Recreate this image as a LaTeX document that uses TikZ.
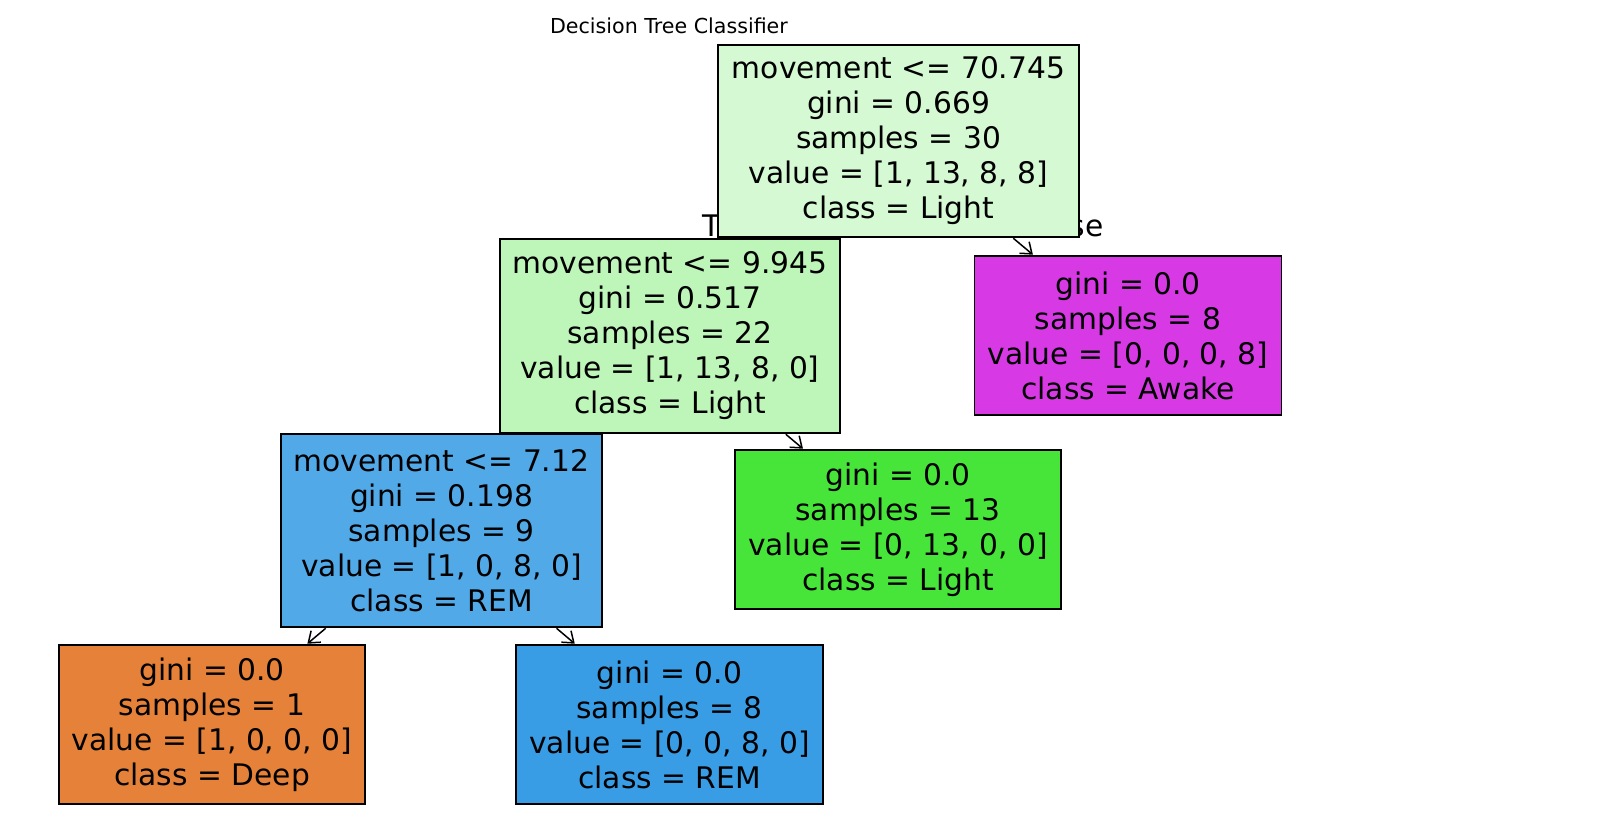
\documentclass[tikz,border=0pt]{standalone}
\usepackage{fontspec}
\setmainfont{DejaVu Sans}
\usetikzlibrary{arrows.meta,backgrounds}
\definecolor{rootfill}{RGB}{213,249,210}
\definecolor{lightmid}{RGB}{189,246,184}
\definecolor{remmid}{RGB}{82,169,232}
\definecolor{awakec}{RGB}{215,57,229}
\definecolor{lightc}{RGB}{71,229,57}
\definecolor{deepc}{RGB}{229,129,57}
\definecolor{remc}{RGB}{57,157,229}
\begin{document}
\begin{tikzpicture}[x=1pt,y=-1pt,
  box/.style={draw=black,line width=1.4pt,align=center,inner sep=0pt,outer sep=0pt,
    font=\fontsize{29.7}{35}\selectfont},
  conn/.style={-{Straight Barb[length=10pt,width=15pt,line width=1.5pt]},line width=1.5pt,
    shorten >=2pt,shorten <=2pt},
  lbl/.style={anchor=base,inner sep=0pt,font=\fontsize{29.7}{35}\selectfont}]
\useasboundingbox (0,0) rectangle (1600,834);
\node (title) at (669,25.5) {\fontsize{20.6}{24}\selectfont Decision Tree Classifier};
\node[box,fill=rootfill,minimum width=361pt,minimum height=192pt] (root) at (898.5,141)
  {movement <= 70.745\\gini = 0.669\\samples = 30\\value = [1, 13, 8, 8]\\class = Light};
\node[box,fill=lightmid,minimum width=340pt,minimum height=194pt] (n1) at (670,336)
  {movement <= 9.945\\gini = 0.517\\samples = 22\\value = [1, 13, 8, 0]\\class = Light};
\node[box,fill=awakec,minimum width=306.5pt,minimum height=159pt] (awake) at (1128,335.5)
  {gini = 0.0\\samples = 8\\value = [0, 0, 0, 8]\\class = Awake};
\node[box,fill=remmid,minimum width=321pt,minimum height=193pt] (n2) at (441.5,530.5)
  {movement <= 7.12\\gini = 0.198\\samples = 9\\value = [1, 0, 8, 0]\\class = REM};
\node[box,fill=lightc,minimum width=326pt,minimum height=159pt] (light) at (898,529.5)
  {gini = 0.0\\samples = 13\\value = [0, 13, 0, 0]\\class = Light};
\node[box,fill=deepc,minimum width=306pt,minimum height=159pt] (deep) at (212,724.5)
  {gini = 0.0\\samples = 1\\value = [1, 0, 0, 0]\\class = Deep};
\node[box,fill=remc,minimum width=307pt,minimum height=159pt] (rem) at (669.5,724.5)
  {gini = 0.0\\samples = 8\\value = [0, 0, 8, 0]\\class = REM};
\begin{pgfonlayer}{background}
  \fill[white] (0,0) rectangle (1600,834);
  \node[lbl] (true) at (734,237) {True};
  \node[lbl] (false) at (1066,237) {False};
  \draw[conn] (root) -- (n1);
  \draw[conn] (root) -- (awake);
  \draw[conn] (n1) -- (n2);
  \draw[conn] (n1) -- (light);
  \draw[conn] (n2) -- (deep);
  \draw[conn] (n2) -- (rem);
\end{pgfonlayer}
\end{tikzpicture}
\end{document}
